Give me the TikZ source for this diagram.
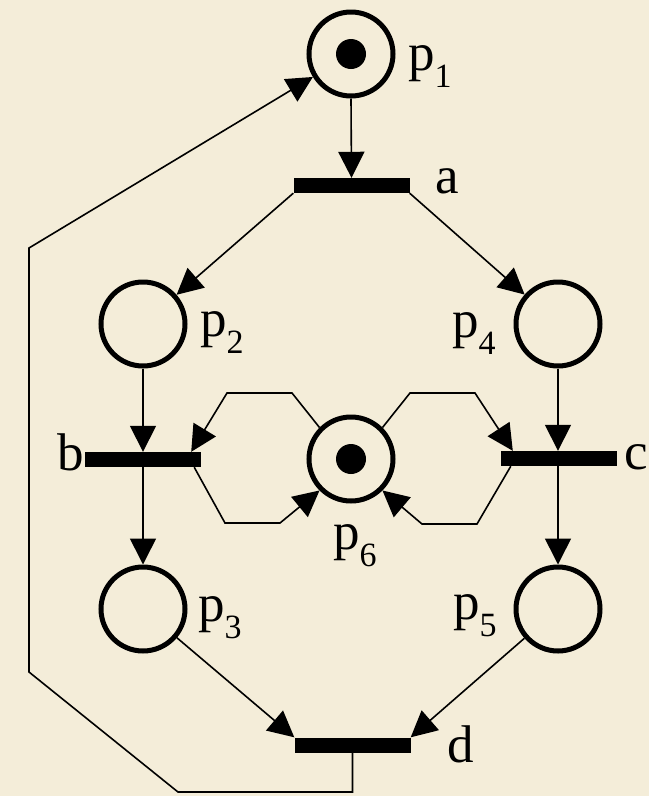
\documentclass[tikz,border=0pt]{standalone}
\usepackage{fontspec}
\setmainfont{Liberation Serif}
\newfontfamily\labfont{Liberation Serif}
\usetikzlibrary{arrows.meta,calc}
\definecolor{paper}{RGB}{244,237,217}
\newcommand\psub[1]{p\raisebox{-17pt}{\fontsize{34}{34}\selectfont #1}}
\begin{document}
\begin{tikzpicture}[x=1pt,y=-1pt,
  place/.style={circle,draw,line width=5pt,minimum size=84pt,inner sep=0pt},
  token/.style={circle,fill,minimum size=30pt,inner sep=0pt},
  trans/.style={rectangle,fill,minimum width=116pt,minimum height=15pt,inner sep=0pt},
  arc/.style={line width=1.6pt,-{Triangle[length=26pt,width=26pt]}},
  lab/.style={anchor=base west,inner sep=0pt,font=\labfont\fontsize{53}{56}\selectfont}]
\fill[paper] (0,0) rectangle (649,796);
\useasboundingbox (0,0) rectangle (649,796);
% places
\node[place] (p1) at (351,54) {};
\node[token] (t1) at (p1) {};
\node[place] (p2) at (143,324) {};
\node[place] (p4) at (558,324) {};
\node[place] (p3) at (143,609) {};
\node[place] (p5) at (558,609) {};
\node[place] (p6) at (351,459) {};
\node[token] (t6) at (p6) {};
% transitions
\node[trans] (a) at (351.5,185.5) {};
\node[trans] (b) at (143,459.5) {};
\node[trans] (c) at (559,458.5) {};
\node[trans] (d) at (352.5,745) {};
% labels
\node[lab] (lp1) at (408,70) {\psub{1}};
\node[lab] (lp2) at (200,336) {\psub{2}};
\node[lab] (lp4) at (452,337) {\psub{4}};
\node[lab] (lp3) at (198,621) {\psub{3}};
\node[lab] (lp5) at (453,619) {\psub{5}};
\node[lab] (lp6) at (333,549) {\psub{6}};
\node[lab] (la) at (435,193) {a};
\node[lab] (lb) at (57,470) {b};
\node[lab] (lc) at (624,469) {c};
\node[lab] (ld) at (447,762) {d};
% arcs
\draw[arc] (p1.south) -- (a.north);
\draw[arc] (a.south west) -- (p2);
\draw[arc] (a.south east) -- (p4);
\draw[arc] (p2.south) -- (b.north);
\draw[arc] (b.south) -- (p3.north);
\draw[arc] (p4.south) -- (p4.south |- c.north);
\draw[arc] (c.south -| p5.north) -- (p5.north);
\draw[arc] (p3) -- (d.north west);
\draw[arc] (p5) -- (d.north east);
% p6 loops
\draw[arc] (p6.135) -- (292,393) -- (227,393) -- ($(b.north east)+(-10,0)$);
\draw[arc] ($(b.south east)+(-7,0)$) -- (225,523) -- (280,523) -- (p6.225);
\draw[arc] (p6.45) -- (410,393) -- (475,393) -- ($(c.north west)+(12,0)$);
\draw[arc] ($(c.south west)+(10,0)$) -- (477,524) -- (422,524) -- (p6.315);
% return arc d -> p1
\coordinate (k2) at (178,792);
\coordinate (k3) at (29,672);
\coordinate (k4) at (29,248);
\draw[arc] (d.south) |- (k2) -- (k3) -- (k4) -- (p1);
\end{tikzpicture}
\end{document}
